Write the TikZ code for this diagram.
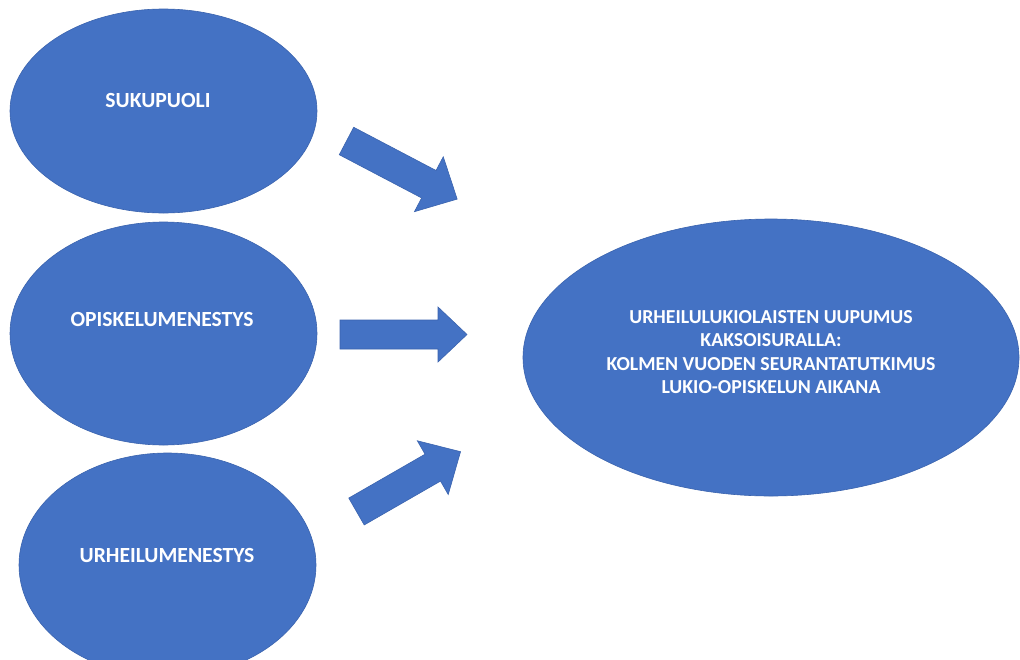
\documentclass[tikz,border=0pt]{standalone}
\usepackage{fontspec}
\setmainfont{Carlito}
\usetikzlibrary{shapes.geometric}
\definecolor{offblue}{HTML}{4472C4}
\definecolor{offedge}{HTML}{3A63AE}
\tikzset{
  blob/.style={ellipse, fill=offblue, draw=offedge, line width=0.6pt, inner sep=0pt},
  lefttext/.style={text=white, font=\bfseries\fontsize{21.6}{25}\selectfont, inner sep=0pt},
  righttext/.style={text=white, font=\bfseries\fontsize{19.8}{23.5}\selectfont, align=center, inner sep=0pt},
  shapefill/.style={fill=offblue, draw=offedge, line width=0.6pt},
  pics/blockarrow/.style n args={4}{code={
    \path[shapefill] (0,-#2) -- ({#1-#4},-#2) -- ({#1-#4},-#3) -- (#1,0)
      -- ({#1-#4},#3) -- ({#1-#4},#2) -- (0,#2) -- cycle;
  }}
}
\begin{document}
\begin{tikzpicture}[x=1pt,y=-1pt]
\useasboundingbox[fill=white] (0,0) rectangle (1020,659);
% left ellipses
\node[blob, minimum width=307pt, minimum height=204pt] (e1) at (163.5,111) {};
\node[lefttext] (t1) at (158,100) {SUKUPUOLI};
\node[blob, minimum width=307pt, minimum height=223pt] (e2) at (163.5,333.5) {};
\node[lefttext] (t2) at (162,319) {OPISKELUMENESTYS};
\node[blob, minimum width=297pt, minimum height=224pt] (e3) at (167.5,565) {};
\node[lefttext] (t3) at (167,555) {URHEILUMENESTYS};
% right ellipse
\node[blob, minimum width=496pt, minimum height=277pt] (e4) at (771,357.5) {};
\node[righttext] (t4) at (771,352) {URHEILULUKIOLAISTEN UUPUMUS\\KAKSOISURALLA:\\KOLMEN VUODEN SEURANTATUTKIMUS\\LUKIO-OPISKELUN AIKANA};
% block arrows
\pic[rotate=-27.7] at (346.5,141) {blockarrow={125}{15.5}{31}{32}};
\pic at (340,334.5) {blockarrow={127}{14.5}{27.5}{29}};
\pic[rotate=29.9] at (356.5,511.5) {blockarrow={120}{15.5}{31}{32}};
\end{tikzpicture}
\end{document}
